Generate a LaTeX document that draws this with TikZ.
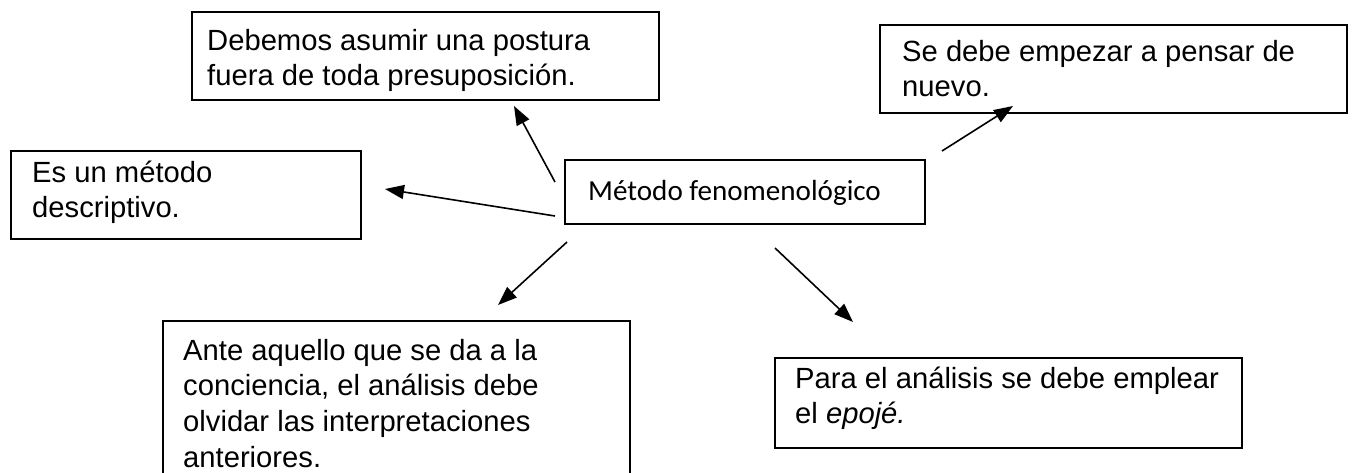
\documentclass[tikz,border=0pt]{standalone}
\usepackage{fontspec}
\newfontfamily\arialf{Liberation Sans}
\newfontfamily\calibrif{Carlito}
\usetikzlibrary{arrows.meta}
\begin{document}
\begin{tikzpicture}[x=1pt,y=-1pt,
  box/.style={draw=black,line width=1.6pt,rectangle,inner sep=0pt},
  txt/.style={anchor=north west,inner sep=0pt,align=left,
    font=\arialf\fontsize{29.2}{35.7}\selectfont},
  ctxt/.style={anchor=base west,inner sep=0pt,
    font=\calibrif\fontsize{29.1}{35}\selectfont},
  arr/.style={line width=1.6pt,-{Triangle[length=19pt,width=14pt]}}]
\clip (0,0) rectangle (1352,472);
\fill[white] (0,0) rectangle (1352,472);
% boxes
\node[box,minimum width=467pt,minimum height=88pt] (topbox) at (425.5,56) {};
\node[box,minimum width=467pt,minimum height=88pt] (rbox) at (1113.5,69) {};
\node[box,minimum width=350pt,minimum height=88pt] (lbox) at (186,195) {};
\node[box,minimum width=360pt,minimum height=64pt] (cbox) at (745,192) {};
\node[box,minimum width=467pt,minimum height=200pt] (blbox) at (396.5,421) {};
\node[box,minimum width=467pt,minimum height=90pt] (brbox) at (1008.5,403) {};
% texts
\node[txt] (topt) at (207,25) {\strut Debemos asumir una postura\\fuera de toda presuposición.};
\node[txt] (rt) at (902,36) {\strut Se debe empezar a pensar de\\nuevo.};
\node[txt] (lt) at (32,157) {\strut Es un método\\descriptivo.};
\node[ctxt] (ct) at (588,200) {Método fenomenológico};
\node[txt] (blt) at (183,335) {\strut Ante aquello que se da a la\\conciencia, el análisis debe\\olvidar las interpretaciones\\anteriores.};
\node[txt] (brt) at (795,363) {\strut Para el análisis se debe emplear\\el \textit{epojé.}};
% arrow end points
\coordinate (a1s) at (555,182); \coordinate (a1e) at (514,106);
\coordinate (a2s) at (555,216); \coordinate (a2e) at (385,189);
\coordinate (a3s) at (567,242); \coordinate (a3e) at (498,305);
\coordinate (a4s) at (775,248); \coordinate (a4e) at (853,322);
\coordinate (a5s) at (942,151); \coordinate (a5e) at (1013,106);
\draw[arr] (a1s) -- (a1e);
\draw[arr] (a2s) -- (a2e);
\draw[arr] (a3s) -- (a3e);
\draw[arr] (a4s) -- (a4e);
\draw[arr] (a5s) -- (a5e);
\end{tikzpicture}
\end{document}
